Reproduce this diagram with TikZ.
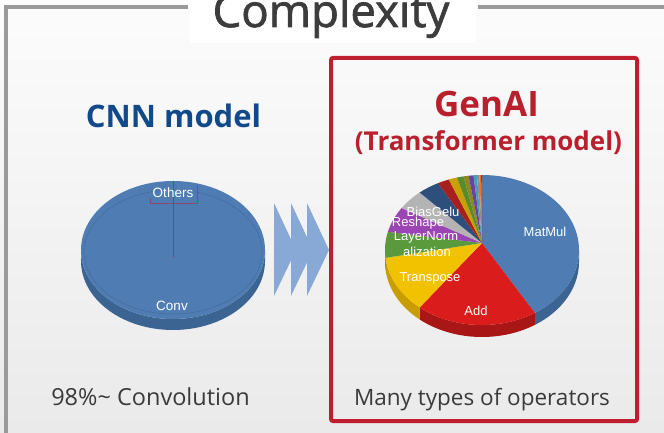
\documentclass[tikz,border=0pt]{standalone}
\usepackage{fontspec}
\setmainfont{Open Sans}
\newfontfamily\labelfont{Liberation Sans}
\newfontfamily\titlefont{Open Sans}[FakeBold=1.6]
\usetikzlibrary{calc,positioning}
\definecolor{bgtop}{HTML}{FCFCFC}
\definecolor{bgbot}{HTML}{EAEAEA}
\definecolor{framegray}{HTML}{9A9A9A}
\definecolor{titlegray}{HTML}{3C3C3C}
\definecolor{notegray}{HTML}{3A3A3A}
\definecolor{cnnblue}{HTML}{114A8B}
\definecolor{genred}{HTML}{B8202E}
\definecolor{boxred}{HTML}{BE1E2D}
\definecolor{othersred}{HTML}{9C3A5A}
\definecolor{chevblue}{HTML}{88A9D6}
\definecolor{pieblue}{HTML}{4F7CB3}
\definecolor{pieside}{HTML}{3C6492}
\definecolor{addred}{HTML}{DA1C1C}
\definecolor{addside}{HTML}{A81616}
\definecolor{transyellow}{HTML}{F2C200}
\definecolor{transside}{HTML}{C99C00}
\definecolor{lngreen}{HTML}{5A9A3C}
\definecolor{lnside}{HTML}{457A2C}
\definecolor{reshpurple}{HTML}{9B45B4}
\definecolor{biasgray}{HTML}{B4B4B4}
\definecolor{navy}{HTML}{2E4E7C}
\definecolor{darkred}{HTML}{A8201E}
\definecolor{gold}{HTML}{C8A000}
\definecolor{leafgreen}{HTML}{5A8A30}
\definecolor{olive}{HTML}{8A8A20}
\definecolor{violet}{HTML}{7040A0}
\definecolor{teal}{HTML}{40A0C0}
\definecolor{midgray}{HTML}{909090}
\definecolor{orange}{HTML}{F07020}

\begin{document}
\begin{tikzpicture}[x=1pt, y=-1pt, every node/.style={inner sep=0pt},
  lbl/.style={text=white, font=\labelfont\fontsize{13}{15}\selectfont},
  heading/.style={anchor=base, font=\bfseries\fontsize{31}{36}\selectfont},
  note/.style={anchor=base, text=notegray, font=\fontsize{22.5}{26}\selectfont}]

\useasboundingbox (0,0) rectangle (664,433);
\shade[top color=bgtop, bottom color=bgbot] (0,0) rectangle (664,433);

% frame round the slide
\fill[white] (190,0) rectangle (476,43);
\draw[framegray, line width=4] (6,433) -- (6,7) -- (188,7);
\draw[framegray, line width=4] (478,7) -- (664,7);
\node[anchor=base, text=titlegray, font=\titlefont\fontsize{45.5}{50}\selectfont] (title) at (331,27) {Complexity};

% CNN side
\node[heading, text=cnnblue] (cnn) at (173.5,128) {CNN model};
\fill[pieside] (173,250) ++(0:92 and 69) arc[start angle=0, end angle=180, x radius=92, y radius=69]
  -- ++(0,11) arc[start angle=180, end angle=0, x radius=92, y radius=69] -- cycle;
\fill[pieblue] (173,250) ellipse[x radius=92, y radius=69];
\draw[pieside!80!pieblue, line width=.4] (173,252) ellipse[x radius=89, y radius=62];
\draw[othersred, line width=.9] (173,181) -- (173,257);
\draw[boxred, opacity=.5, line width=.8] (150,198) -- (150,203) -- (197,203) -- (197,185);
\node[lbl, font=\labelfont\fontsize{13.5}{15}\selectfont] (others) at (173,193) {Others};
\node[lbl, font=\labelfont\fontsize{13.5}{15}\selectfont] (conv) at (172,306) {Conv};
\node[note, font=\fontsize{23.5}{26}\selectfont] (convnote) at (150.5,405) {98\%\textasciitilde{} Convolution};

% chevrons
\foreach \x in {274,291,307} \fill[chevblue] (\x,203) -- (\x+22,250) -- (\x,296) -- cycle;

% GenAI side
\draw[boxred, line width=4, rounded corners=2] (331,58) rectangle (637,421);
\node[heading, text=genred, font=\bfseries\fontsize{35}{40}\selectfont] (genai) at (486.5,117) {GenAI};
\node[heading, text=genred, font=\bfseries\fontsize{26}{30}\selectfont] (transformer) at (488.5,150) {(Transformer model)};

% pie: rim first, slices meet at (482,243)
\foreach \a/\b/\col in {0/57/pieside,57/130/addside,130/174/transside,174/180/lnside}
  \fill[\col] (482,250) ++(\a:97 and 75) arc[start angle=\a, end angle=\b, x radius=97, y radius=75]
    -- ++(0,12) arc[start angle=\b, end angle=\a, x radius=97, y radius=75] -- cycle;
\foreach \a/\b/\col in {-90/57/pieblue,57/130/addred,130/174/transyellow,174/194/lngreen,194/214/reshpurple,
  214/230/biasgray,230/243/navy,243/250/darkred,250/255/gold,255/259/leafgreen,259/262/olive,
  262/265/violet,265/267/teal,267/268.5/midgray,268.5/269.5/orange,269.5/270/addred}
  \fill[\col] (482,243) -- ($(482,250)+(\a:97 and 75)$) arc[start angle=\a, end angle=\b, x radius=97, y radius=75] -- cycle;

\node[lbl] (matmul) at (545,232) {MatMul};
\node[lbl] (biasgelu) at (433,212) {BiasGelu};
\node[lbl] (reshape) at (418,223) {Reshape};
\node[lbl] (layernorm) at (426,237) {LayerNorm};
\node[lbl] (alization) at (427,252) {alization};
\node[lbl] (transpose) at (430,278) {Transpose};
\node[lbl] (add) at (476,311) {Add};
\node[note] (opsnote) at (482,405) {Many types of operators};
\end{tikzpicture}
\end{document}
